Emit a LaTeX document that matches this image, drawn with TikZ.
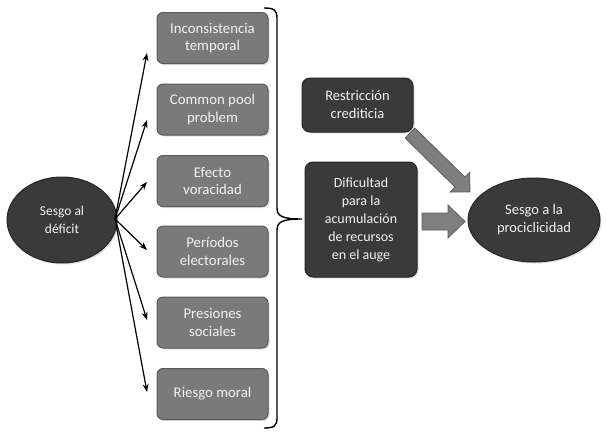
\documentclass[tikz,border=0pt]{standalone}
\usepackage{fontspec}
\setmainfont{Carlito}
\usetikzlibrary{arrows.meta,shadows,shapes.geometric}
\definecolor{boxgray}{HTML}{7A7A7A}
\definecolor{boxedge}{HTML}{5A5A5A}
\definecolor{darkfill}{HTML}{3A3A3A}
\definecolor{darkedge}{HTML}{262626}
\definecolor{arrowgray}{HTML}{7E7E7E}
\definecolor{arrowedge}{HTML}{5E5E5E}
\begin{document}
\begin{tikzpicture}[x=1pt,y=-1pt,
  shade/.style={drop shadow={opacity=0.25,shadow xshift=1.5pt,shadow yshift=-1.5pt}},
  cause/.style={shade,draw=boxedge,line width=1pt,fill=boxgray,rounded corners=6pt,
    minimum width=111pt,minimum height=51pt,text=white!95!black,align=center,
    font=\fontsize{14.8}{17.5}\selectfont,inner sep=2pt},
  darkbox/.style={shade,draw=darkedge,line width=1pt,fill=darkfill,rounded corners=8pt,
    text=white!95!black,align=center,font=\fontsize{14}{18}\selectfont,inner sep=2pt},
  oval/.style={shade,ellipse,draw=darkedge,line width=1pt,fill=darkfill,text=white!95!black,
    align=center,font=\fontsize{14.5}{18}\selectfont,inner sep=0pt},
  link/.style={line width=1.2pt,-{Stealth[length=8pt,width=6pt]}},
  blockarrow/.style={fill=arrowgray,draw=arrowedge,line width=0.8pt}]
\useasboundingbox (0,0) rectangle (607,439);
% left ellipse
\node[oval,minimum width=110pt,minimum height=86pt,font=\fontsize{13.5}{18}\selectfont] (deficit) at (62,220) {Sesgo al\\déficit};
% causes
\node[cause] (c1) at (212.5,38) {Inconsistencia\\temporal};
\node[cause] (c2) at (212.5,109.5) {Common pool\\problem};
\node[cause] (c3) at (212.5,181) {Efecto\\voracidad};
\node[cause] (c4) at (212.5,251.5) {Períodos\\electorales};
\node[cause] (c5) at (212.5,322.5) {Presiones\\sociales};
\node[cause] (c6) at (212.5,394) {Riesgo moral};
% arrows from deficit
\coordinate (o) at (115,219);
\coordinate (t1) at (147,53);
\coordinate (t2) at (147,120);
\coordinate (t3) at (147,182);
\coordinate (t4) at (147,250);
\coordinate (t5) at (147,320);
\coordinate (t6) at (147,392);
\foreach \i in {1,...,6} \draw[link] (o) -- (t\i);
% brace
\coordinate (bt) at (264,8);
\coordinate (bm) at (302,219);
\coordinate (bb) at (264,428);
\draw[line width=1.4pt] (bt) .. controls (274,8) and (277,10) .. (277,18)
  -- (277,208) .. controls (277,216) and (282,219) .. (bm)
  .. controls (282,219) and (277,222) .. (277,230)
  -- (277,418) .. controls (277,426) and (274,428) .. (bb);
% right side
\node[darkbox,minimum width=111pt,minimum height=54pt,font=\fontsize{14.5}{18}\selectfont] (rc) at (357.5,105) {Restricción\\crediticia};
\node[darkbox,minimum width=112pt,minimum height=115pt] (dif) at (361,219.5) {Dificultad\\para la\\acumulación\\de recursos\\en el auge};
\node[oval,minimum width=132pt,minimum height=84pt] (pro) at (534,220) {Sesgo a la\\prociclicidad};
% block arrows
\draw[blockarrow] (422,213) -- (448,213) -- (448,205) -- (465,221.5) -- (448,238) -- (448,230) -- (422,230) -- cycle;
\begin{scope}[shift={(410,133)},rotate=-44.5]
\draw[blockarrow] (0,-7) -- (70,-7) -- (70,-14) -- (84,0) -- (70,14) -- (70,7) -- (0,7) -- cycle;
\end{scope}
\end{tikzpicture}
\end{document}
